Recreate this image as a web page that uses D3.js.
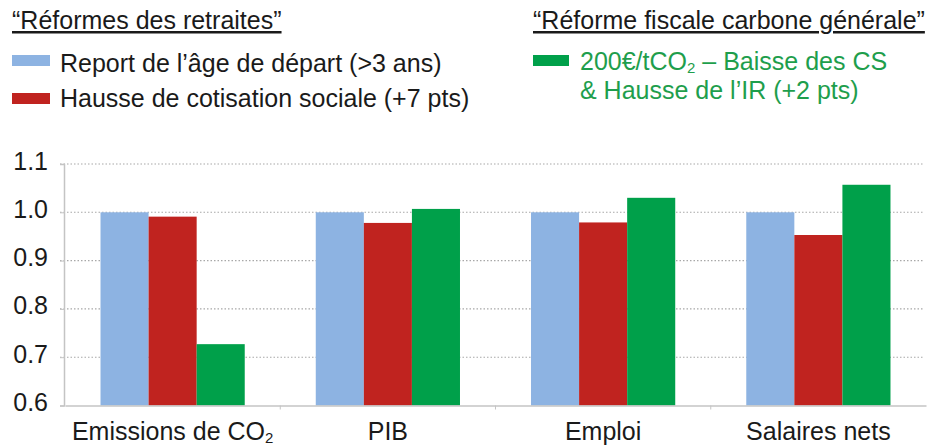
<!DOCTYPE html>
<html><head><meta charset="utf-8">
<script src="https://cdn.jsdelivr.net/npm/d3@7"></script>
<style>
html,body{margin:0;padding:0;background:#fff;}
svg{display:block;font-family:"Liberation Sans",Arial,Helvetica,sans-serif;}
</style></head>
<body>
<svg id="chart" width="930" height="448"></svg>
<script>
const categories = ["Emissions de CO2", "PIB", "Emploi", "Salaires nets"];
const seriesNames = ["Report de l’âge de départ (>3 ans)", "Hausse de cotisation sociale (+7 pts)", "200€/tCO2 – Baisse des CS & Hausse de l’IR (+2 pts)"];
const reportAge = [1.0, 1.0, 1.0, 1.0];
const hausseCotisation = [0.991, 0.978, 0.979, 0.953];
const reformeCarbone = [0.727, 1.007, 1.030, 1.057];
const yTicks = [0.6, 0.7, 0.8, 0.9, 1.0, 1.1];
const colors = ["#8db3e2", "#c0231f", "#00a04a"];

const series = [reportAge, hausseCotisation, reformeCarbone];
const svg = d3.select("#chart");

const x = d3.scaleBand().domain(categories).range([65, 926]).paddingInner(0.33).paddingOuter(0.165);
const x1 = d3.scaleBand().domain(d3.range(series.length)).range([0, x.bandwidth()]);
const y = d3.scaleLinear().domain([0.6, 1.1]).range([405.5, 164]);

// gridlines
svg.append("g").selectAll("line").data(yTicks.filter(t => t > 0.6)).join("line")
  .attr("x1", 60).attr("x2", 923)
  .attr("y1", d => y(d)).attr("y2", d => y(d))
  .attr("stroke", "#a8a8a8").attr("stroke-width", 1.1).attr("stroke-dasharray", "1.5,2");

// bars
const rows = categories.map((c, i) => ({c, vals: series.map((s, k) => ({k, v: s[i]}))}));
svg.append("g").selectAll("g").data(rows).join("g")
  .attr("transform", d => `translate(${x(d.c)},0)`)
  .selectAll("rect").data(d => d.vals).join("rect")
  .attr("x", d => x1(d.k)).attr("width", x1.bandwidth())
  .attr("y", d => y(d.v)).attr("height", d => y(0.6) - y(d.v))
  .attr("fill", d => colors[d.k]);

// y axis
const yAxis = svg.append("g").attr("transform", "translate(64,0)")
  .call(d3.axisLeft(y).tickValues(yTicks).tickFormat(d3.format(".1f")).tickSize(4).tickPadding(12));
yAxis.select(".domain").attr("stroke", "#c4c4c4").attr("stroke-width", 1.5);
yAxis.selectAll(".tick line").attr("stroke", "#c4c4c4");
yAxis.selectAll(".tick text").attr("font-size", 25).attr("fill", "#1a1a1a")
  .attr("font-family", "Liberation Sans, Arial, sans-serif").attr("dy", "0.2em");

// x axis
const xAxis = svg.append("g").attr("transform", `translate(0,${y(0.6)})`)
  .call(d3.axisBottom(x).tickSize(0).tickFormat(() => ""));
xAxis.select(".domain").attr("stroke", "#c4c4c4").attr("stroke-width", 1.5);
xAxis.selectAll(".tick").remove();
const step = x.step();
svg.append("g").selectAll("line").data(categories.slice(1)).join("line")
  .attr("x1", d => x(d) - x.paddingInner() * step / 2)
  .attr("x2", d => x(d) - x.paddingInner() * step / 2)
  .attr("y1", y(0.6)).attr("y2", y(0.6) + 4)
  .attr("stroke", "#c4c4c4");

// category labels
const lab = svg.append("g").selectAll("text").data(categories).join("text")
  .attr("x", d => x(d) + x.bandwidth() / 2).attr("y", 440)
  .attr("text-anchor", "middle").attr("font-size", 25).attr("fill", "#1a1a1a");
lab.each(function(d) {
  const t = d3.select(this);
  if (d.endsWith("CO2")) {
    t.append("tspan").text(d.slice(0, -1));
    t.append("tspan").attr("font-size", 15).attr("dy", 3).text("2");
  } else t.text(d);
});

// legends
const leg = svg.append("g").attr("font-size", 25);
leg.append("text").attr("x", 12).attr("y", 29).attr("fill", "#1a1a1a")
  .style("text-decoration", "underline").text("“Réformes des retraites”");
leg.append("text").attr("x", 533).attr("y", 29).attr("fill", "#1a1a1a")
  .style("text-decoration", "underline").text("“Réforme fiscale carbone générale”");

leg.append("rect").attr("x", 12).attr("y", 55).attr("width", 38).attr("height", 11).attr("fill", colors[0]);
leg.append("text").attr("x", 60).attr("y", 72).attr("fill", "#1a1a1a").text(seriesNames[0]);
leg.append("rect").attr("x", 12).attr("y", 93).attr("width", 38).attr("height", 11).attr("fill", colors[1]);
leg.append("text").attr("x", 60).attr("y", 107).attr("fill", "#1a1a1a").text(seriesNames[1]);

leg.append("rect").attr("x", 533).attr("y", 55).attr("width", 36).attr("height", 11).attr("fill", colors[2]);
const g1 = leg.append("text").attr("x", 580).attr("y", 70).attr("fill", "#1e9e4c");
g1.append("tspan").text("200€/tCO");
g1.append("tspan").attr("font-size", 15).attr("dy", 3).text("2");
g1.append("tspan").attr("dy", -3).text(" – Baisse des CS");
leg.append("text").attr("x", 580).attr("y", 99).attr("fill", "#1e9e4c").text("& Hausse de l’IR (+2 pts)");
</script>
</body></html>
